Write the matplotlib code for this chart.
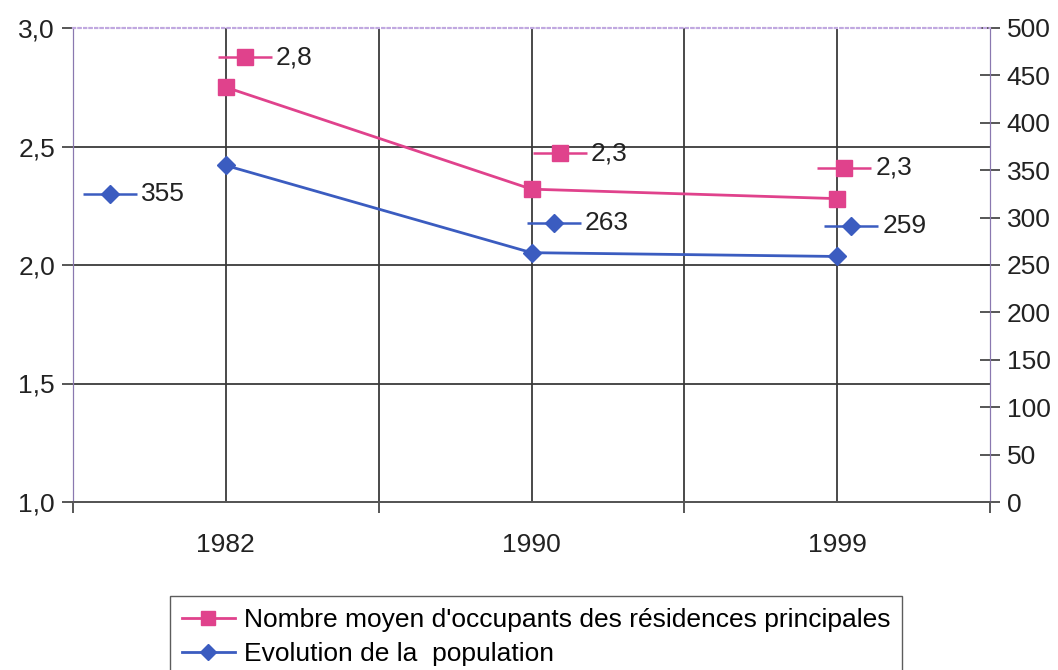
import matplotlib.pyplot as plt
from matplotlib.lines import Line2D
from matplotlib.transforms import offset_copy
from matplotlib.ticker import FuncFormatter, MultipleLocator

years = ["1982", "1990", "1999"]
occupants = [2.75, 2.32, 2.28]
occupants_labels = ["2,8", "2,3", "2,3"]
population = [355, 263, 259]
population_labels = ["355", "263", "259"]

# label offsets (pixels) of the excel style data labels
occ_offsets = [(19, 30), (28, 36), (7, 31)]
pop_offsets = [(-116, -29), (22, 30), (14, 30)]

pink = "#e0428c"
blue = "#3b5cc0"
grid_col = "#3a3a3a"
fs = 19

plt.rcParams['font.family'] = ['Liberation Sans', 'DejaVu Sans']

fig = plt.figure(figsize=(10.58, 6.70), dpi=100)
ax = fig.add_axes([73/1058, 1-502/670, (990-73)/1058, (502-28)/670])
ax2 = ax.twinx()

x = list(range(len(years)))
ax.plot(x, occupants, color=pink, lw=2, marker='s', ms=11, mfc=pink, mec=pink, zorder=5)
ax2.plot(x, population, color=blue, lw=2, marker='D', ms=9, mfc=blue, mec=blue, zorder=5)

ax.set_xlim(-0.48, 2.5)
ax.set_ylim(1.0, 3.0)
ax2.set_ylim(0, 500)

# vertical grid at categories and boundaries
ax.set_xticks(x)
ax.set_xticklabels(years, fontsize=fs, color='#222222')
ax.set_xticks([-0.5, 0.5, 1.5, 2.5], minor=True)
ax.tick_params(axis='x', which='major', length=0, pad=22)
ax.tick_params(axis='x', which='minor', length=8, width=1.2, color=grid_col, direction='out')
for xv in [0, 0.5, 1, 1.5, 2]:
    ax.axvline(xv, color=grid_col, lw=1.3, zorder=1)

ax.yaxis.set_major_locator(MultipleLocator(0.5))
ax.yaxis.set_major_formatter(FuncFormatter(lambda v, p: ("%.1f" % v).replace(".", ",")))
ax.tick_params(axis='y', length=8, width=1.2, color=grid_col, labelsize=fs, labelcolor='#222222', pad=5)
for yv in [1.5, 2.0, 2.5]:
    ax.axhline(yv, color=grid_col, lw=1.3, zorder=1)

ax2.yaxis.set_major_locator(MultipleLocator(50))
ax2.tick_params(axis='y', length=14, width=1.2, color=grid_col, labelsize=fs,
                labelcolor='#222222', direction='inout', pad=5)

for a in (ax, ax2):
    a.spines['top'].set_color('#c0a8e0')
    a.spines['top'].set_linestyle(':')
    a.spines['top'].set_linewidth(1.5)
    a.spines['left'].set_color('#8a78b0')
    a.spines['right'].set_color('#8a78b0')
    a.spines['bottom'].set_color('#555555')
    a.spines['bottom'].set_linestyle((0, (4, 1)))
    a.spines['bottom'].set_linewidth(1.3)

# data labels with legend key
def data_labels(axis, vals, labels, offsets, color, marker, ms):
    for xi, v, lab, (dx, dy) in zip(x, vals, labels, offsets):
        tr = offset_copy(axis.transData, fig=fig, x=dx, y=dy, units='dots')
        axis.plot([xi], [v], transform=tr, marker='_', ms=39, mew=1.8, color=color, zorder=6)
        axis.plot([xi], [v], transform=tr, marker=marker, ms=ms, color=color, zorder=7)
        axis.annotate(lab, xy=(xi, v), xytext=(dx + 31, dy), textcoords='offset pixels',
                      ha='left', va='center', fontsize=fs, color='#222222')

data_labels(ax, occupants, occupants_labels, occ_offsets, pink, 's', 11)
data_labels(ax2, population, population_labels, pop_offsets, blue, 'D', 9)

handles = [
    Line2D([], [], color=pink, lw=2, marker='s', ms=10),
    Line2D([], [], color=blue, lw=2, marker='D', ms=8),
]
names = ["Nombre moyen d'occupants des résidences principales",
         "Evolution de la  population"]
fig.legend(handles, names, loc='upper left', bbox_to_anchor=(170/1058, 1-596/670),
           fontsize=fs, frameon=True, fancybox=False, edgecolor='#333333',
           handlelength=2.0, handletextpad=0.35, labelspacing=0.4, borderpad=0.45,
           borderaxespad=0)

fig.savefig("out.png", dpi=100)
